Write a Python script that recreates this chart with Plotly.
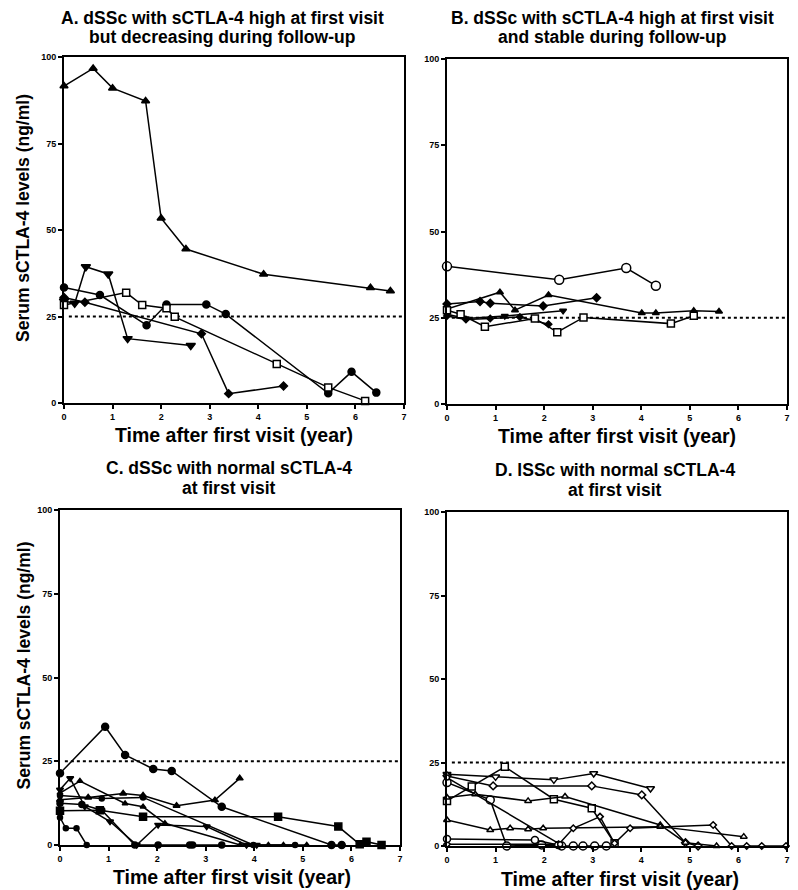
import plotly.graph_objects as go

# the page body has an 8 px default margin; the figure is sized to fill the rest
PAGE_W, PAGE_H, OFF = 798, 890, 8
W, H = PAGE_W - OFF, PAGE_H - OFF

YEARS = [0, 1, 2, 3, 4, 5, 6, 7]
LEVELS = [0, 25, 50, 75, 100]
THRESHOLD = 25

TITLES = {
    "A": ["A. dSSc with sCTLA-4 high at first visit", "but decreasing during follow-up"],
    "B": ["B. dSSc with sCTLA-4 high at first visit", "and stable during follow-up"],
    "C": ["C. dSSc with normal sCTLA-4", "at first visit"],
    "D": ["D. lSSc with normal sCTLA-4", "at first visit"],
}
XTITLE = "Time after first visit (year)"
YTITLE = "Serum sCTLA-4 levels (ng/ml)"

# ---- Panel A data (years, ng/ml) ----
A_X = [
    [0, 0.6, 1.0, 1.68, 2.0, 2.51, 4.11, 6.31, 6.72],
    [0, 0.22, 0.45, 0.91, 1.31, 2.61],
    [0, 0.74, 1.70, 2.11, 2.93, 3.33, 5.44, 5.92, 6.43],
    [0, 0.43, 2.83, 3.39, 4.52],
    [0, 1.28, 1.61, 2.11, 2.28, 4.38, 5.44, 6.2],
]
A_Y = [
    [91.6, 96.7, 91.0, 87.3, 53.4, 44.5, 37.2, 33.3, 32.4],
    [29.5, 28.8, 39.4, 37.3, 18.6, 16.6],
    [33.4, 31.2, 22.5, 28.5, 28.5, 25.7, 2.8, 9.0, 3.0],
    [30.5, 29.1, 20.0, 2.7, 4.9],
    [28.3, 31.9, 28.3, 27.4, 24.9, 11.3, 4.5, 0.6],
]

# ---- Panel B data ----
B_X = [
    [0, 2.31, 3.69, 4.3],
    [0, 1.09, 1.40, 2.09, 4.01, 4.3, 5.08, 5.6],
    [0, 0.68, 0.89, 1.98, 3.08],
    [0, 0.39, 1.19, 2.39],
    [0, 0.39, 0.89, 1.5, 2.09],
    [0, 0.28, 0.78, 1.81, 2.27, 2.81, 4.61, 5.08],
]
B_Y = [
    [39.9, 36.0, 39.4, 34.3],
    [27.5, 32.4, 27.2, 31.6, 26.4, 26.4, 27.0, 26.8],
    [29.0, 29.7, 29.2, 28.4, 30.8],
    [26.0, 24.8, 25.5, 27.0],
    [25.5, 24.5, 24.8, 25.2, 23.1],
    [27.2, 26.0, 22.4, 24.8, 20.8, 25.1, 23.3, 25.6],
]

# ---- Panel C data ----
C_X = [
    [0, 0.93, 1.34, 1.92, 2.30, 3.33, 5.59, 5.80],
    [0, 0.58, 1.30, 1.71, 2.40, 3.19, 3.70],
    [0, 0.82, 1.71, 4.49, 5.73, 6.17, 6.31, 6.62],
    [0, 0.21, 0.51, 1.03, 1.58, 2.02, 3.02, 3.84, 4.05],
    [0, 0.41, 1.34, 1.71, 2.16, 3.71, 4.29, 4.60, 5.08],
    [0, 0.12, 0.34, 0.55],
    [0, 0.45, 0.86, 1.54, 2.02, 2.67, 2.73, 3.33],
    [0, 0.86, 1.71, 3.98, 4.84],
]
C_Y = [
    [21.4, 35.3, 26.9, 22.7, 22.1, 11.4, 0, 0],
    [13.5, 14.2, 15.4, 14.8, 11.7, 13.4, 19.9],
    [10.2, 10.4, 8.4, 8.4, 5.5, 0.2, 1.0, 0],
    [16.5, 19.9, 11.5, 7.0, 0, 6.0, 5.5, 0, 0],
    [15.5, 19.1, 12.4, 11.4, 6.5, 0, 0, 0, 0],
    [8.2, 5.0, 5.0, 0],
    [12.5, 12.1, 10.4, 0, 0, 0, 0, 0],
    [14.8, 13.9, 14.2, 0, 0],
]

# ---- Panel D data ----
D_X = [
    [0, 1.0, 2.2, 3.02, 4.19],
    [0, 0.51, 1.19, 2.2, 2.98, 3.45],
    [0, 0.95, 2.98, 4.01, 4.91, 5.17],
    [0, 0.89, 1.23, 1.95, 2.36, 2.6, 2.8, 3.04, 3.28],
    [0, 0.58, 1.67, 2.43, 4.39, 4.91, 5.55],
    [0, 0.89, 1.30, 1.67, 1.98, 4.39, 6.11],
    [0, 2.3, 2.6, 3.15, 3.45, 3.77, 5.48, 5.86, 6.17, 6.48, 6.98],
    [0, 1.81, 2.29],
    [0, 2.33],
]
D_Y = [
    [21.5, 20.7, 19.8, 21.7, 17.2],
    [13.5, 17.8, 23.7, 14.0, 11.3, 0.8],
    [21.0, 18.0, 18.0, 15.3, 1.0, 0],
    [19.0, 13.8, 0, 0.3, 0, 0, 0, 0, 0],
    [14.5, 15.5, 13.5, 14.8, 6.3, 1.0, 0],
    [7.8, 4.8, 5.3, 5.0, 5.3, 5.8, 2.8],
    [0.5, 0.5, 5.3, 8.8, 0.8, 5.3, 6.3, 0, 0, 0, 0],
    [2.1, 1.8, 0.3],
    [20.5, 0.5],
]

# ---- styles (symbol, filled?, size) ----
A_STY = [("triangle-up", True, 7), ("triangle-down", True, 8), ("circle", True, 7),
         ("diamond", True, 6), ("square", False, 7)]
B_STY = [("circle", False, 9), ("triangle-up", True, 6), ("diamond", True, 6),
         ("triangle-down", True, 6), ("diamond", True, 5), ("square", False, 7)]
C_STY = [("circle", True, 7), ("triangle-up", True, 6), ("square", True, 7),
         ("triangle-down", True, 6), ("triangle-up", True, 5), ("circle", True, 5),
         ("circle", True, 6), ("circle", True, 5)]
D_STY = [("triangle-down", False, 7), ("square", False, 7), ("diamond", False, 6),
         ("circle", False, 8), ("triangle-up", False, 6), ("triangle-up", False, 6),
         ("diamond", False, 5), ("circle", False, 7), ("circle", False, 5)]

# panel page-pixel boxes: left, right, top(100), bottom(0)
BOX = {"A": (64, 404, 57, 403), "B": (447, 787, 59, 404),
       "C": (60, 400, 510, 845), "D": (447, 787, 512, 846)}
# title centre x, line-1 y, line-2 y
TITLE_POS = {"A": (222, 18, 37), "B": (612, 18, 37), "C": (229, 468, 488), "D": (615, 470, 490)}
XT_POS = {"A": (234, 435), "B": (617, 436), "C": (232, 877), "D": (620, 879)}

PANELS = [("A", A_X, A_Y, A_STY), ("B", B_X, B_Y, B_STY),
          ("C", C_X, C_Y, C_STY), ("D", D_X, D_Y, D_STY)]

FONT = "Liberation Sans, Arial, sans-serif"


def fx(px):
    return (px - OFF) / W


def fy(py):
    return 1 - (py - OFF) / H


fig = go.Figure()
layout = dict(template="none", width=W, height=H, margin=dict(l=0, r=0, t=0, b=0, pad=0),
              paper_bgcolor="white", plot_bgcolor="white", showlegend=False,
              annotations=[])


def ann(text, x, y, size, angle=0):
    return dict(text=text, x=fx(x), y=fy(y), xref="paper", yref="paper",
                showarrow=False, xanchor="center", yanchor="middle", textangle=angle,
                font=dict(family=FONT, size=size, color="black", weight="bold"))


for i, (key, XS, YS, STY) in enumerate(PANELS):
    n = "" if i == 0 else str(i + 1)
    xa, ya = "x" + n, "y" + n
    l, r, t, b = BOX[key]
    axcommon = dict(showgrid=False, zeroline=False, showline=True, linecolor="black",
                    linewidth=2, mirror=True, ticks="outside", ticklen=4, tickwidth=1.5,
                    tickcolor="black", automargin=False,
                    tickfont=dict(family=FONT, size=9, color="black", weight="bold"))
    layout["xaxis" + n] = dict(axcommon, domain=[fx(l), fx(r)], range=[0, 7],
                               tickvals=YEARS, anchor=ya, fixedrange=True)
    layout["yaxis" + n] = dict(axcommon, domain=[fy(b), fy(t)], range=[0, 100],
                               tickvals=LEVELS, anchor=xa, fixedrange=True)
    fig.add_trace(go.Scatter(x=[0.1, 7], y=[THRESHOLD, THRESHOLD], mode="lines",
                             line=dict(color="black", width=2, dash="dot"),
                             xaxis=xa, yaxis=ya, hoverinfo="skip"))
    for xs, ys, (sym, filled, size) in zip(XS, YS, STY):
        fig.add_trace(go.Scatter(
            x=xs, y=ys, mode="lines+markers", cliponaxis=False,
            line=dict(color="black", width=1.5),
            marker=dict(symbol=sym, size=size, color="black" if filled else "white",
                        line=dict(color="black", width=1.5)),
            xaxis=xa, yaxis=ya))
    tx, ty1, ty2 = TITLE_POS[key]
    layout["annotations"].append(ann(TITLES[key][0], tx, ty1, 17.5))
    layout["annotations"].append(ann(TITLES[key][1], tx, ty2, 17.5))
    xx, xy = XT_POS[key]
    layout["annotations"].append(ann(XTITLE, xx, xy, 19.5))
    if key in ("A", "C"):
        layout["annotations"].append(ann(YTITLE, 23, (t + b) / 2 - 12, 17.5, -90))

fig.update_layout(**layout)
fig.write_html("out.html")
